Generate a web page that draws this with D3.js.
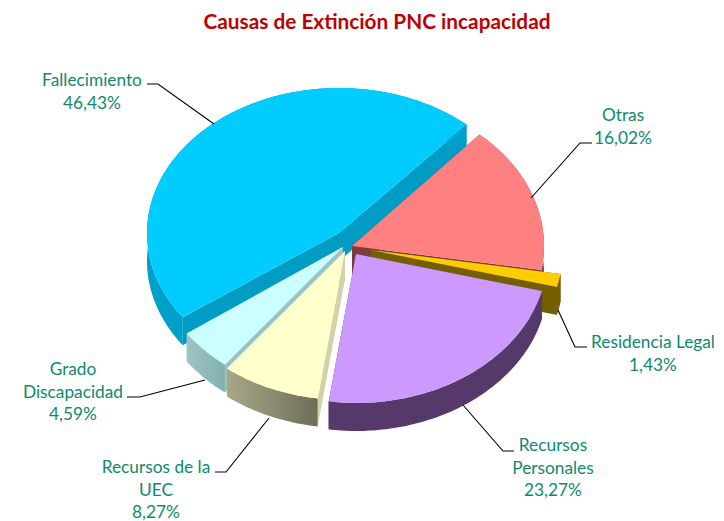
<!DOCTYPE html>
<html><head><meta charset="utf-8">
<script src="https://cdn.jsdelivr.net/npm/d3@7"></script>
<style>html,body{margin:0;padding:0;background:#fff}svg{display:block}</style>
</head><body><svg id="c" width="724" height="521"></svg>
<script>
const title = "Causas de Extinción PNC incapacidad";
const categories = ["Otras","Residencia Legal","Recursos Personales","Recursos de la UEC","Grado Discapacidad","Fallecimiento"];
const values = [16.02,1.43,23.27,8.27,4.59,46.43];
const valueLabels = ["16,02%","1,43%","23,27%","8,27%","4,59%","46,43%"];
const labelLines = [["Otras"],["Residencia Legal"],["Recursos","Personales"],["Recursos de la","UEC"],["Grado","Discapacidad"],["Fallecimiento"]];
const topColors = ["#FF8080","#FFCC00","#CC99FF","#FFFFCC","#CCFFFF","#00CCFF"];
const wallColors = ["#7F3A3A","#735F00","#54396A","#D2D2A8","#98C4C4","#009CC4"];
const rimFrom = ["#7F4040","#735F00","#54396A","#A8A888","#A0C4C4","#00A0C8"];
const rimTo = ["#7F4040","#735F00","#54396A","#6E6E58","#80B0B0","#00A0C8"];
// layout: slice apex, vertical radius per slice, label anchor, leader path
const apex = [[352,246],[371,250],[356,254],[345,251],[343,247],[339,233]];
const radiiY = [149,149,149,149,149,145];
const labelPos = [[623,121],[653,348],[553,451],[156,473],[73,375],[92,86]];
const leaders = [[[592,143],[580,143],[531,198]],[[587,347],[575,347],[558,310]],[[514,451],[503,451],[463,405]],[[215,472],[226,472],[269,418]],[[127,397],[140,397],[205,380]],[[147,84],[158,84],[214,124]]];
const drawOrder = [5,0,1,4,3,2];
const rx = 192, depth = 28, startDeg = 41.6;
const lineH = 22.5;

const svg = d3.select("#c");
const defs = svg.append("defs");
const pie = d3.pie().sort(null).startAngle(startDeg*Math.PI/180).endAngle((startDeg+360)*Math.PI/180);
const arcs = pie(values);
const line = d3.line();

svg.append("text").attr("x",377).attr("y",29).attr("text-anchor","middle")
  .attr("font-family","Lato, Carlito, sans-serif").attr("font-weight",700).attr("font-size",20.8)
  .attr("fill","#C00000").text(title);

drawOrder.forEach(i=>{
  const a = arcs[i], [cx,cy] = apex[i], ry = radiiY[i];
  const P = (t,d=0)=>[cx+rx*Math.sin(t), cy-ry*Math.cos(t)+d];
  const n = Math.max(8,Math.ceil((a.endAngle-a.startAngle)*60));
  const ts = d3.range(n+1).map(k=>a.startAngle+(a.endAngle-a.startAngle)*k/n);
  const g = svg.append("g");
  const gid = "rim"+i;
  const xs = ts.map(t=>P(t)[0]);
  const lg = defs.append("linearGradient").attr("id",gid).attr("gradientUnits","userSpaceOnUse")
    .attr("x1",d3.min(xs)).attr("x2",d3.max(xs)).attr("y1",0).attr("y2",0);
  lg.append("stop").attr("offset",0).attr("stop-color",rimFrom[i]);
  lg.append("stop").attr("offset",1).attr("stop-color",rimTo[i]);
  [a.startAngle,a.endAngle].forEach(t=>{
    g.append("path").attr("d",line([[cx,cy],P(t),P(t,depth),[cx,cy+depth]])+"Z").attr("fill",wallColors[i]);
  });
  const rimPts = ts.map(t=>P(t)).concat(ts.slice().reverse().map(t=>P(t,depth)));
  g.append("path").attr("d",line(rimPts)+"Z").attr("fill",`url(#${gid})`);
  g.append("path").attr("d",line([[cx,cy]].concat(ts.map(t=>P(t))))+"Z").attr("fill",topColors[i]);
});

leaders.forEach(p=>svg.append("path").attr("d",line(p)).attr("fill","none").attr("stroke","#000").attr("stroke-width",1.1));

labelLines.forEach((ls,i)=>{
  const t = svg.append("text").attr("text-anchor","middle").attr("font-family","Lato, Carlito, sans-serif")
    .attr("font-size",17.3).attr("fill","#0E8A6C");
  ls.concat([valueLabels[i]]).forEach((s,k)=>{
    t.append("tspan").attr("x",labelPos[i][0]).attr("y",labelPos[i][1]+k*lineH).text(s);
  });
});
</script></body></html>
